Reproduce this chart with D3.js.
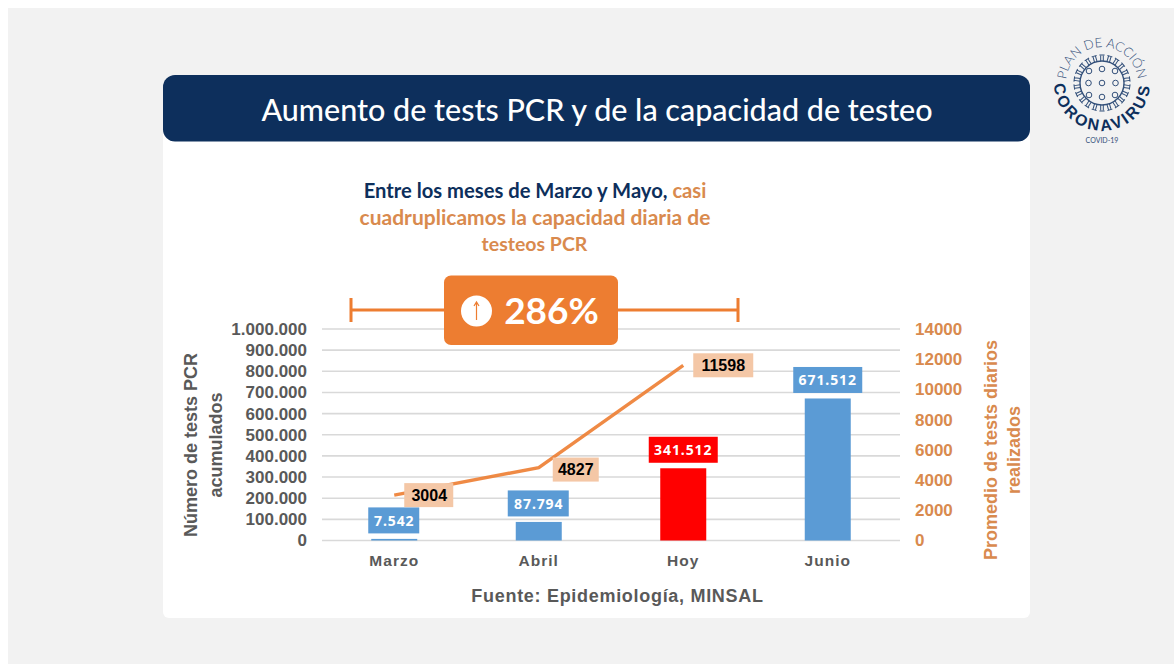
<!DOCTYPE html>
<html><head><meta charset="utf-8">
<script src="https://cdn.jsdelivr.net/npm/d3@7"></script>
<style>html,body{margin:0;padding:0;background:#fff}svg{display:block}</style></head>
<body><svg id="c" width="1174" height="664"></svg>
<script>
const categories=["Marzo","Abril","Hoy","Junio"];
const accumulated=[7542,87794,341512,671512];
const accumulatedLabels=["7.542","87.794","341.512","671.512"];
const dailyAverage=[3004,4827,11598];
const leftTicks=[0,100000,200000,300000,400000,500000,600000,700000,800000,900000,1000000];
const rightTicks=[0,2000,4000,6000,8000,10000,12000,14000];
const barColors=["#5b9bd5","#5b9bd5","#ff0000","#5b9bd5"];
const ORANGE="#ed7d31",NAVY="#0d2f5c",GREY="#595959",TAN="#d98a4e";
const svg=d3.select("#c");
const HF="'Lato','Noto Sans',sans-serif",CF="'Liberation Sans',Arial,sans-serif";

svg.append("rect").attr("x",8).attr("y",8).attr("width",1166).attr("height",656).attr("fill","#f2f2f2");
svg.append("rect").attr("x",163).attr("y",120).attr("width",867).attr("height",498).attr("rx",6).attr("fill","#fff");
svg.append("rect").attr("x",163).attr("y",75).attr("width",867).attr("height",66.5).attr("rx",12).attr("fill",NAVY);
svg.append("text").attr("x",597).attr("y",121).attr("text-anchor","middle").attr("fill","#fff")
  .attr("font-family",HF).attr("font-size",30.5).attr("font-weight",500).text("Aumento de tests PCR y de la capacidad de testeo");

const sub=svg.append("g").attr("font-family",HF).attr("font-weight",700).attr("text-anchor","middle").attr("fill",TAN);
const l1=sub.append("text").attr("x",535).attr("y",198).attr("font-size",20.2);
l1.append("tspan").attr("fill",NAVY).text("Entre los meses de Marzo y Mayo, ");
l1.append("tspan").text("casi");
sub.append("text").attr("x",535).attr("y",224.5).attr("font-size",21).text("cuadruplicamos la capacidad diaria de");
sub.append("text").attr("x",534.5).attr("y",251).attr("font-size",19.5).text("testeos PCR");

const x=d3.scaleBand().domain(categories).range([322,900]);
const yL=d3.scaleLinear().domain([0,1000000]).range([540.5,329]);
const yR=d3.scaleLinear().domain([0,14000]).range([540.5,329]);
const dots=d3.format(",");
const fmt=d=>dots(d).replace(/,/g,".");

svg.append("g").selectAll("line").data(leftTicks).join("line")
  .attr("x1",322).attr("x2",900).attr("y1",d=>yL(d)).attr("y2",d=>yL(d))
  .attr("stroke","#d9d9d9").attr("stroke-width",1.6);

const gl=svg.append("g").attr("transform","translate(322,0)").call(d3.axisLeft(yL).tickValues(leftTicks).tickFormat(fmt).tickSize(0).tickPadding(15));
gl.select(".domain").remove();
gl.selectAll("text").attr("font-family",CF).attr("font-size",17).attr("font-weight",700).attr("fill",GREY);
const gr=svg.append("g").attr("transform","translate(900,0)").call(d3.axisRight(yR).tickValues(rightTicks).tickFormat(d3.format("d")).tickSize(0).tickPadding(15));
gr.select(".domain").remove();
gr.selectAll("text").attr("font-family",CF).attr("font-size",17).attr("font-weight",700).attr("fill",TAN);
const gx=svg.append("g").attr("transform","translate(0,540.5)").call(d3.axisBottom(x).tickSize(0).tickPadding(14));
gx.select(".domain").remove();
gx.selectAll("text").attr("font-family",CF).attr("font-size",15.5).attr("font-weight",700).attr("fill",GREY).attr("letter-spacing",1);

const cx=d=>x(d)+x.bandwidth()/2, bw=46;
svg.append("g").selectAll("rect").data(categories).join("rect")
  .attr("x",d=>cx(d)-bw/2).attr("width",bw)
  .attr("y",(d,i)=>yL(accumulated[i])).attr("height",(d,i)=>540.5-yL(accumulated[i]))
  .attr("fill",(d,i)=>barColors[i]);

const line=d3.line().x((d,i)=>cx(categories[i])).y(d=>yR(d));
svg.append("path").attr("d",line(dailyAverage)).attr("fill","none").attr("stroke",ORANGE).attr("stroke-width",3.4).attr("opacity",.9);

const bl=svg.append("g").selectAll("g").data(categories).join("g")
  .attr("transform",(d,i)=>`translate(${cx(d)},${yL(accumulated[i])-18.5})`);
bl.append("rect").attr("x",(d,i)=>i==0?-26:(i==1?-31:-34.5)).attr("y",-13).attr("height",26)
  .attr("width",(d,i)=>i==0?51:(i==1?61:69)).attr("fill",(d,i)=>barColors[i]);
bl.append("text").attr("text-anchor","middle").attr("dy",5.5).attr("fill","#fff")
  .attr("font-family","'Noto Sans',sans-serif").attr("font-size",14).attr("font-weight",700).attr("letter-spacing",.9)
  .text((d,i)=>accumulatedLabels[i]);

const offs=[[35,0],[37,2],[37,0]];
const ll=svg.append("g").selectAll("g").data(dailyAverage).join("g")
  .attr("transform",(d,i)=>`translate(${cx(categories[i])+offs[i][0]},${yR(d)+offs[i][1]})`);
ll.append("rect").attr("x",(d,i)=>i==2?-27:(i==1?-23:-25)).attr("y",-12).attr("height",24)
  .attr("width",(d,i)=>i==2?60:(i==1?46:49)).attr("fill","#f4c7a6");
ll.append("text").attr("text-anchor","middle").attr("x",(d,i)=>i==2?3:0).attr("dy",5.6).attr("fill","#000")
  .attr("font-family",CF).attr("font-size",16).attr("font-weight",700).text(d=>d);

const title=(t,bx,by,c)=>svg.append("text").attr("transform",`translate(${bx},${by}) rotate(-90)`).attr("text-anchor","middle")
  .attr("font-family",CF).attr("font-size",18).attr("font-weight",700).attr("fill",c).text(t);
title("Número de tests PCR",197,445,GREY);
title("acumulados",222,445,GREY);
title("Promedio de tests diarios",997,450,TAN);
title("realizados",1020,450,TAN);

svg.append("text").attr("x",617.5).attr("y",601.5).attr("text-anchor","middle").attr("font-family",CF)
  .attr("font-size",18).attr("font-weight",700).attr("letter-spacing",.7).attr("fill",GREY).text("Fuente: Epidemiología, MINSAL");

// 286% bracket
const b=svg.append("g");
b.append("path").attr("d","M351,310H738M351,298V322M738,298V322").attr("fill","none").attr("stroke",ORANGE).attr("stroke-width",3);
b.append("rect").attr("x",444).attr("y",275.5).attr("width",174).attr("height",69.5).attr("rx",7).attr("fill",ORANGE);
b.append("circle").attr("cx",476.5).attr("cy",311).attr("r",15.5).attr("fill","#fff");
b.append("path").attr("d","M476.5,320V303M474,306L476.5,302L479,306").attr("fill","none").attr("stroke",ORANGE).attr("stroke-width",1.2);
b.append("text").attr("x",551.5).attr("y",324).attr("text-anchor","middle").attr("fill","#fff").attr("font-family",HF)
  .attr("font-size",37).attr("font-weight",700).text("286%");

// logo
const lg=svg.append("g").attr("transform","translate(1102,83)");
const defs=svg.append("defs");
defs.append("path").attr("id","arcTop").attr("d","M-36,0A36,36 0 0 1 36,0");
defs.append("path").attr("id","arcBot").attr("d","M-47,-10A48,48 0 1 0 47,-10");
lg.append("circle").attr("r",22).attr("fill","none").attr("stroke","#33507a").attr("stroke-width",1.4);
lg.append("g").selectAll("path").data(d3.range(22)).join("path")
  .attr("d","M-1.3,-22V-27.5M-2.6,-28H2.6M1.3,-22V-27.5")
  .attr("transform",d=>`rotate(${d*360/22})`).attr("fill","none").attr("stroke","#33507a").attr("stroke-width",1);
const dotsP=[[0,0],[0,-14],[0,14],[-13,-12],[13,-12],[-13.5,0],[13.5,0],[-13,12],[13,12]];
lg.append("g").selectAll("circle").data(dotsP).join("circle").attr("cx",d=>d[0]).attr("cy",d=>d[1]).attr("r",2.8)
  .attr("fill","none").attr("stroke","#33507a").attr("stroke-width",1);
lg.append("text").attr("font-family",HF).attr("font-size",13).attr("font-weight",300).attr("fill","#33507a").append("textPath")
  .attr("href","#arcTop").attr("startOffset","50%").attr("text-anchor","middle").text("PLAN DE ACCIÓN");
lg.append("text").attr("font-family",CF).attr("font-size",16).attr("font-weight",700).attr("letter-spacing",2.6).attr("fill",NAVY).append("textPath")
  .attr("href","#arcBot").attr("startOffset","50%").attr("text-anchor","middle").text("CORONAVIRUS");
lg.append("text").attr("y",60).attr("text-anchor","middle").attr("font-family",HF).attr("font-size",7).attr("fill","#33507a").text("COVID-19");
</script></body></html>
